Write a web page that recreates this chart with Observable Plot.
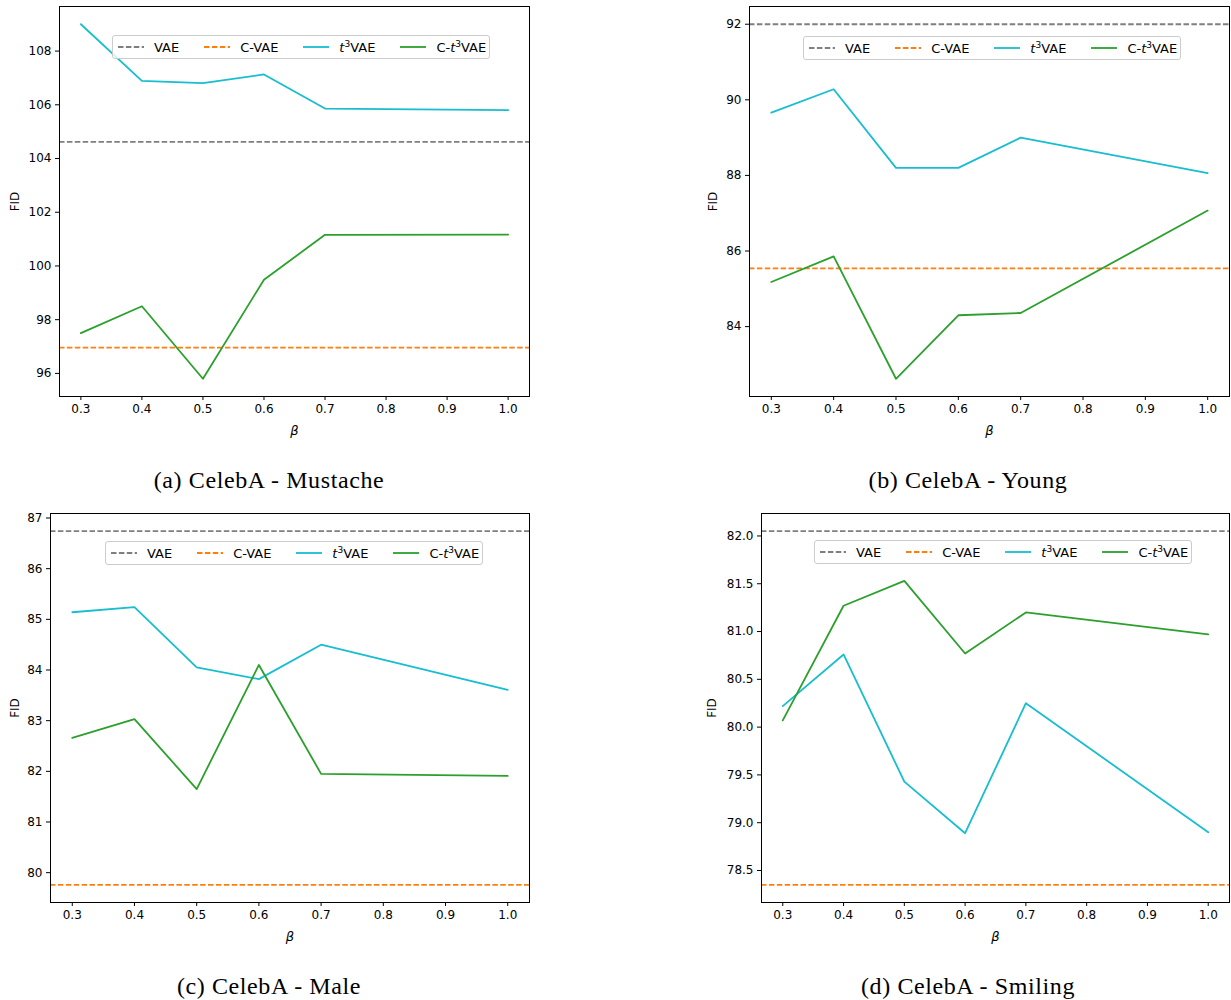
<!DOCTYPE html>
<html>
<head>
<meta charset="utf-8">
<script src="https://cdn.jsdelivr.net/npm/d3@7"></script>
<script src="https://cdn.jsdelivr.net/npm/@observablehq/plot@0.6"></script>
<style>
  body { margin: 0; background: #fff; }
  #root { position: relative; width: 1231px; height: 1000px; overflow: hidden; font-family: "DejaVu Sans", sans-serif; background: #fff; }
  .panel { position: absolute; }
  .legend { position: absolute; display: flex; align-items: center; gap: 25px; box-sizing: border-box; height: 24px; width: 378px; padding: 0 5px 0 5px;
            justify-content: space-between;
            border: 1px solid #cccccc; border-radius: 3px; background: rgba(255,255,255,0.8); font-size: 13px; color: #000; white-space: nowrap; }
  .entry { display: flex; align-items: center; gap: 10px; }
  .entry svg { display: block; }
  .entry sup { font-size: 9px; vertical-align: 5px; line-height: 0; }
  .caption { position: absolute; font-family: "Liberation Serif", serif; font-size: 24px; letter-spacing: 0.6px; color: #000;
             transform: translate(-50%, -50%); white-space: nowrap; }
</style>
</head>
<body>
<div id="root"></div>
<script>
// ---------------- data ----------------
const beta = [0.3, 0.4, 0.5, 0.6, 0.7, 1.0];
const seriesNames = ["VAE", "C-VAE", "t3VAE", "C-t3VAE"];
const seriesLabels = ["VAE", "C-VAE", "<i>t</i><sup>3</sup>VAE", "C-<i>t</i><sup>3</sup>VAE"];
const seriesColors = ["#7f7f7f", "#ff7f0e", "#17becf", "#2ca02c"];
const seriesDashed = [true, true, false, false];
const captions = ["(a) CelebA - Mustache", "(b) CelebA - Young", "(c) CelebA - Male", "(d) CelebA - Smiling"];
const xTicks = [0.3, 0.4, 0.5, 0.6, 0.7, 0.8, 0.9, 1.0];

// (a) Mustache
const mustacheVAE = 104.62;
const mustacheCVAE = 96.96;
const mustacheT3 = [109.00, 106.89, 106.81, 107.13, 105.86, 105.80];
const mustacheCT3 = [97.50, 98.50, 95.80, 99.49, 101.16, 101.17];
const mustacheTicks = [96, 98, 100, 102, 104, 106, 108];

// (b) Young
const youngVAE = 92.00;
const youngCVAE = 85.54;
const youngT3 = [89.66, 90.28, 88.20, 88.20, 89.00, 88.06];
const youngCT3 = [85.18, 85.86, 82.62, 84.30, 84.36, 87.07];
const youngTicks = [84, 86, 88, 90, 92];

// (c) Male
const maleVAE = 86.74;
const maleCVAE = 79.76;
const maleT3 = [85.14, 85.24, 84.05, 83.82, 84.50, 83.61];
const maleCT3 = [82.66, 83.03, 81.65, 84.10, 81.95, 81.91];
const maleTicks = [80, 81, 82, 83, 84, 85, 86, 87];

// (d) Smiling
const smilingVAE = 82.05;
const smilingCVAE = 78.35;
const smilingT3 = [80.22, 80.76, 79.43, 78.89, 80.25, 78.90];
const smilingCT3 = [80.07, 81.27, 81.53, 80.77, 81.20, 80.97];
const smilingTicks = [78.5, 79.0, 79.5, 80.0, 80.5, 81.0, 81.5, 82.0];

// ---------------- layout ----------------
const panels = [
  { vae: mustacheVAE, cvae: mustacheCVAE, t3: mustacheT3, ct3: mustacheCT3, ticks: mustacheTicks, fmt: "d",
    left: 0, top: 0, width: 531, height: 441, marginLeft: 59, yLabelOffset: 49, legend: [112, 35], caption: [269, 480] },
  { vae: youngVAE, cvae: youngCVAE, t3: youngT3, ct3: youngCT3, ticks: youngTicks, fmt: "d",
    left: 690, top: 0, width: 541, height: 441, marginLeft: 59, yLabelOffset: 41, legend: [803, 36], caption: [968, 480] },
  { vae: maleVAE, cvae: maleCVAE, t3: maleT3, ct3: maleCT3, ticks: maleTicks, fmt: "d",
    left: 0, top: 507, width: 531, height: 440, marginLeft: 50, yLabelOffset: 40, legend: [105, 541], caption: [269, 986] },
  { vae: smilingVAE, cvae: smilingCVAE, t3: smilingT3, ct3: smilingCT3, ticks: smilingTicks, fmt: ".1f",
    left: 690, top: 507, width: 541, height: 440, marginLeft: 71, yLabelOffset: 54, legend: [814, 540], caption: [968, 986] }
];

const root = document.getElementById("root");
const dash = "5.5,2.4";

panels.forEach((p, i) => {
  const t3Rows = beta.map((b, k) => ({ beta: b, fid: p.t3[k] }));
  const ct3Rows = beta.map((b, k) => ({ beta: b, fid: p.ct3[k] }));
  const all = [...p.t3, ...p.ct3, p.vae, p.cvae];
  const [lo, hi] = d3.extent(all);
  const pad = (hi - lo) * 0.05;

  const chart = Plot.plot({
    width: p.width,
    height: p.height,
    marginLeft: p.marginLeft,
    marginRight: 2,
    marginTop: 6,
    marginBottom: 45,
    style: { fontFamily: "DejaVu Sans", fontSize: "12px", color: "#000", background: "transparent", overflow: "visible" },
    x: { domain: [0.265, 1.035], ticks: xTicks, tickFormat: d3.format(".1f"), tickSize: 4, tickPadding: 4,
         label: "β", labelAnchor: "center", labelArrow: "none", labelOffset: 38 },
    y: { domain: [lo - pad, hi + pad], ticks: p.ticks, tickFormat: d3.format(p.fmt), tickSize: 4, tickPadding: 4,
         label: "FID", labelAnchor: "center", labelArrow: "none", labelOffset: p.yLabelOffset },
    marks: [
      Plot.ruleY([p.vae], { stroke: seriesColors[0], strokeWidth: 1.8, strokeDasharray: dash }),
      Plot.ruleY([p.cvae], { stroke: seriesColors[1], strokeWidth: 1.8, strokeDasharray: dash }),
      Plot.line(t3Rows, { x: "beta", y: "fid", stroke: seriesColors[2], strokeWidth: 1.8 }),
      Plot.line(ct3Rows, { x: "beta", y: "fid", stroke: seriesColors[3], strokeWidth: 1.8 }),
      Plot.frame({ stroke: "#000", strokeWidth: 1 })
    ]
  });
  chart.classList.add("panel");
  chart.style.left = p.left + "px";
  chart.style.top = p.top + "px";
  d3.select(chart).selectAll('g[aria-label="x-axis label"] text').attr("font-style", "italic").attr("font-size", 13);
  root.appendChild(chart);

  // legend
  const lg = document.createElement("div");
  lg.className = "legend";
  lg.style.left = p.legend[0] + "px";
  lg.style.top = p.legend[1] + "px";
  lg.innerHTML = seriesNames.map((name, k) =>
    `<div class="entry" data-name="${name}"><svg width="26" height="10"><line x1="0" x2="26" y1="5" y2="5" stroke="${seriesColors[k]}" stroke-width="1.8" ${seriesDashed[k] ? `stroke-dasharray="${dash}"` : ""}/></svg><span>${seriesLabels[k]}</span></div>`
  ).join("");
  root.appendChild(lg);

  // caption
  const cap = document.createElement("div");
  cap.className = "caption";
  cap.style.left = p.caption[0] + "px";
  cap.style.top = p.caption[1] + "px";
  cap.textContent = captions[i];
  root.appendChild(cap);
});
</script>
</body>
</html>
